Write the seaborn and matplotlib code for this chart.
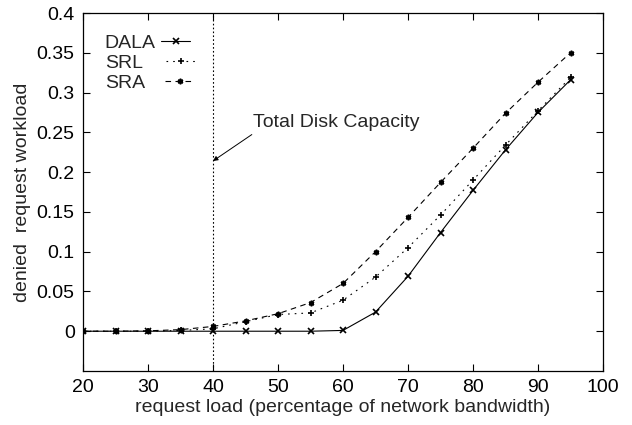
import numpy as np
import pandas as pd
import matplotlib
matplotlib.use("Agg")
import matplotlib.pyplot as plt
import seaborn as sns

# ---- data ----
load = [20, 25, 30, 35, 40, 45, 50, 55, 60, 65, 70, 75, 80, 85, 90, 95]
dala = [0, 0, 0, 0, 0, 0, 0, 0, 0.001, 0.024, 0.069, 0.124, 0.177, 0.228, 0.275, 0.316]
srl = [0, 0, 0, 0.001, 0.003, 0.012, 0.021, 0.023, 0.039, 0.068, 0.105, 0.146, 0.190, 0.234, 0.277, 0.319]
sra = [0, 0, 0.0005, 0.002, 0.006, 0.013, 0.022, 0.036, 0.060, 0.100, 0.143, 0.187, 0.230, 0.274, 0.313, 0.350]
series_names = ["DALA", "SRL", "SRA"]
yticks = [0, 0.05, 0.1, 0.15, 0.2, 0.25, 0.3, 0.35, 0.4]
ytick_labels = ["0", "0.05", "0.1", "0.15", "0.2", "0.25", "0.3", "0.35", "0.4"]
xticks = [20, 30, 40, 50, 60, 70, 80, 90, 100]
capacity_x = 40
annot_text = "Total Disk Capacity"

sns.set_style("ticks")
plt.rcParams["font.family"] = ["Liberation Sans", "DejaVu Sans"]
plt.rcParams["font.size"] = 14

fig = plt.figure(figsize=(6.32, 4.25), dpi=100)
ax = fig.add_axes([83 / 632, 1 - 371 / 425, 520 / 632, 358 / 425])

styles = {
    "DALA": dict(marker="x", linestyle="-"),
    "SRL": dict(marker="+", linestyle=(0, (1.5, 4.5))),
    "SRA": dict(marker=(6, 2, 0), linestyle=(0, (5, 4))),
}
for name, vals in zip(series_names, [dala, srl, sra]):
    sns.lineplot(x=load, y=vals, ax=ax, color="black", label=name,
                 linewidth=0.8, markersize=4, markeredgewidth=1.2,
                 markeredgecolor="black", markerfacecolor="black",
                 **styles[name])

ax.axvline(capacity_x, color="black", linewidth=0.8, linestyle=(0, (1.5, 2)))

ax.annotate(annot_text, xy=(40, 0.214), xytext=(46.2, 0.262),
            ha="left", va="center", fontsize=14,
            arrowprops=dict(arrowstyle="-|>", color="black", lw=0.7,
                            mutation_scale=7, shrinkA=0, shrinkB=0,
                            relpos=(0.02, 0.0)))

ax.set_xlim(20, 100)
ax.set_ylim(-0.05, 0.4)
ax.set_xticks(xticks)
ax.set_yticks(yticks)
ax.set_yticklabels(ytick_labels)
ax.tick_params(direction="in", length=5, width=0.8, top=True, right=True,
               labelsize=14, pad=6, colors="black")
for s in ax.spines.values():
    s.set_visible(True)
    s.set_linewidth(0.9)
    s.set_color("black")

ax.set_xlabel("request load (percentage of network bandwidth)", fontsize=14, labelpad=2)
ax.set_ylabel("denied  request workload", fontsize=14, labelpad=4)

leg = ax.legend(loc="upper left", bbox_to_anchor=(0.042, 0.94), frameon=False,
                markerfirst=False, handlelength=1.5, handletextpad=0.2,
                labelspacing=0.12, borderpad=0, borderaxespad=0, fontsize=14)
for h in leg.legend_handles:
    h.set_markersize(4)

# left-align the label texts while keeping the samples aligned
fig.canvas.draw()
renderer = fig.canvas.get_renderer()
texts = leg.get_texts()
widths = [t.get_window_extent(renderer).width for t in texts]
wmax = max(widths)
column = leg._legend_handle_box.get_children()[0]
base_sep = 0.2 * 14 * fig.dpi / 72
for row, w in zip(column.get_children(), widths):
    row.sep = base_sep + (wmax - w)
column.align = "left"

fig.savefig("out.png", dpi=100)
